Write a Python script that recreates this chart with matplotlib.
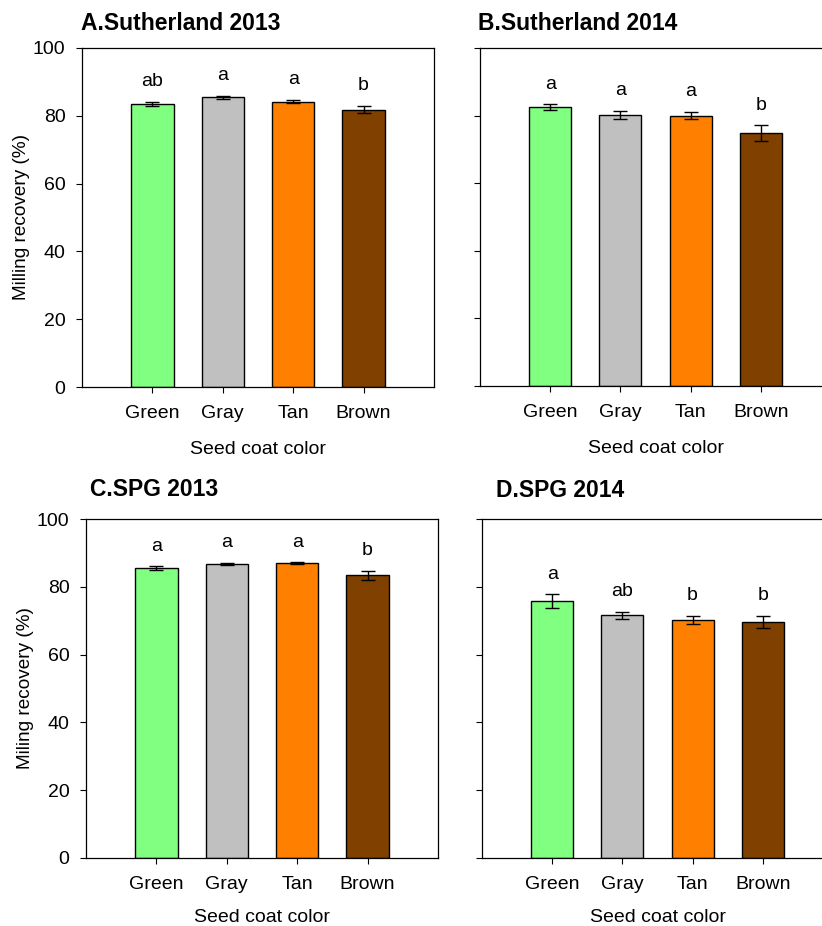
import matplotlib
matplotlib.use("Agg")
import matplotlib.pyplot as plt

plt.rcParams['font.family'] = ['Liberation Sans', 'DejaVu Sans']

# data
colors_cat = ["Green", "Gray", "Tan", "Brown"]
bar_colors = ["#80FF80", "#C0C0C0", "#FF8000", "#804000"]

titles = ["A.Sutherland 2013", "B.Sutherland 2014", "C.SPG 2013", "D.SPG 2014"]
ylabels = ["Milling recovery (%)", None, "Miling recovery (%)", None]

suth13_mean = [83.6, 85.4, 84.2, 81.8]
suth13_se = [0.6, 0.55, 0.5, 1.1]
suth13_letters = ["ab", "a", "a", "b"]

suth14_mean = [82.6, 80.2, 80.0, 74.9]
suth14_se = [0.8, 1.3, 1.1, 2.3]
suth14_letters = ["a", "a", "a", "b"]

spg13_mean = [85.6, 86.7, 86.9, 83.4]
spg13_se = [0.5, 0.3, 0.3, 1.4]
spg13_letters = ["a", "a", "a", "b"]

spg14_mean = [75.8, 71.6, 70.3, 69.6]
spg14_se = [2.0, 1.1, 1.2, 1.8]
spg14_letters = ["a", "ab", "b", "b"]

means = [suth13_mean, suth14_mean, spg13_mean, spg14_mean]
ses = [suth13_se, suth14_se, spg13_se, spg14_se]
letters = [suth13_letters, suth14_letters, spg13_letters, spg14_letters]

W, H = 822, 926
fig = plt.figure(figsize=(W / 100, H / 100), dpi=100)

# axes boxes in pixels: left, top, right, bottom (B and D run past the right edge)
boxes = [(82, 48, 434, 387), (480, 48, 831, 386),
         (86, 519, 438, 858), (482, 519, 833, 858)]
title_pos = [(81, 23), (478, 24), (90, 489), (496, 491)]
xlabel_pads = [14, 14, 11.5, 11.5]

for i in range(4):
    l, t, r, b = boxes[i]
    ax = fig.add_axes([l / W, 1 - b / H, (r - l) / W, (b - t) / H])
    x = list(range(1, 5))
    ax.bar(x, means[i], width=0.6, color=bar_colors, edgecolor="black", linewidth=1.0)
    ax.errorbar(x, means[i], yerr=ses[i], fmt="none", ecolor="black",
                elinewidth=1.0, capsize=4.7, capthick=1.0)
    for xi, m, s, lab in zip(x, means[i], ses[i], letters[i]):
        ax.text(xi, m + s + 4.6, lab, ha="center", va="baseline", fontsize=14)
    ax.set_xlim(0, 5)
    ax.set_ylim(0, 100)
    ax.set_xticks(x)
    ax.set_xticklabels(colors_cat, fontsize=14)
    ax.set_yticks([0, 20, 40, 60, 80, 100])
    if ylabels[i] is None:
        ax.set_yticklabels([])
    else:
        ax.set_yticklabels([0, 20, 40, 60, 80, 100], fontsize=14)
        ax.set_ylabel(ylabels[i], fontsize=13.7, labelpad=2)
    ax.set_xlabel("Seed coat color", fontsize=14, labelpad=xlabel_pads[i])
    ax.tick_params(axis="y", direction="out", length=4.3, width=0.8, pad=7.5)
    ax.tick_params(axis="x", direction="out", length=4.3, width=0.8, pad=8.5)
    for sp in ax.spines.values():
        sp.set_linewidth(0.9)
    tx, ty = title_pos[i]
    fig.text(tx / W, 1 - ty / H, titles[i], fontsize=16.5, fontweight="bold",
             ha="left", va="center")

fig.savefig("out.png", dpi=100)
